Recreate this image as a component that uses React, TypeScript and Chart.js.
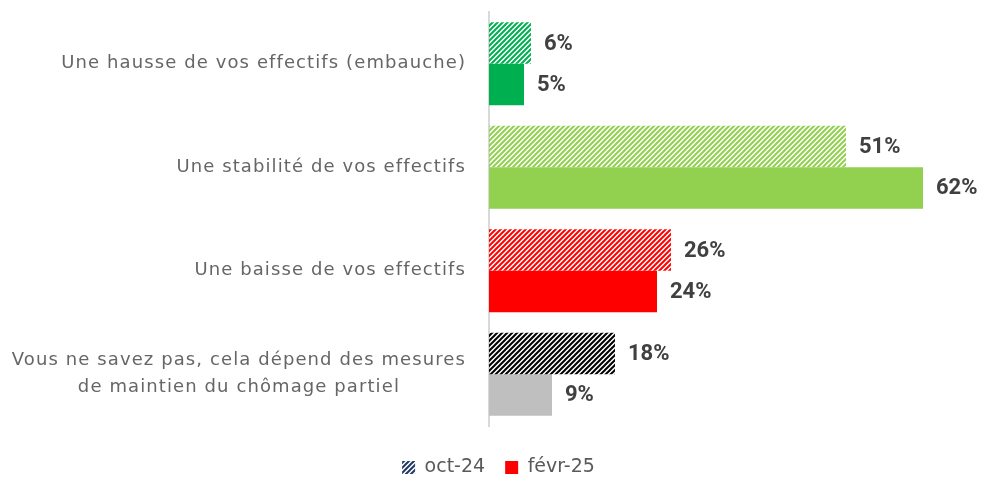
import React, { useEffect, useRef } from "react";
import { Chart, registerables } from "chart.js";

Chart.register(...registerables);

const categories: string[][] = [
  ["Une hausse de vos effectifs (embauche)"],
  ["Une stabilité de vos effectifs"],
  ["Une baisse de vos effectifs"],
  ["Vous ne savez pas, cela dépend des mesures", "de maintien du chômage partiel"],
];
const seriesNames = ["oct-24", "févr-25"];
const oct24 = [6, 51, 26, 18];
const fevr25 = [5, 62, 24, 9];
const hatchColors = ["#00b050", "#92d050", "#ff0000", "#000000"];
const solidColors = ["#00b050", "#92d050", "#ff0000", "#bfbfbf"];
const legendHatchColor = "#1f3864";
const legendSolidColor = "#ff0000";

const LABEL_FONT = "'DejaVu Sans', sans-serif";
const VALUE_FONT = "Roboto, sans-serif";

function hatch(color: string): CanvasPattern | string {
  const s = 5;
  const c = document.createElement("canvas");
  c.width = s;
  c.height = s;
  const x = c.getContext("2d");
  if (!x) return color;
  x.strokeStyle = color;
  x.lineWidth = 2;
  x.beginPath();
  x.moveTo(-1, s + 1);
  x.lineTo(s + 1, -1);
  x.moveTo(-s / 2 - 1, s / 2 + 1);
  x.lineTo(s / 2 + 1, -s / 2 - 1);
  x.moveTo(s / 2 - 1, s * 1.5 + 1);
  x.lineTo(s * 1.5 + 1, s / 2 - 1);
  x.stroke();
  return x.createPattern(c, "repeat") || color;
}

const labelsPlugin = {
  id: "customLabels",
  afterLayout(chart: any) {
    const lg = chart.legend;
    if (lg) {
      lg.top += 9;
      lg.bottom += 9;
    }
  },
  afterDatasetsDraw(chart: any) {
    const ctx = chart.ctx as CanvasRenderingContext2D;
    ctx.save();
    ctx.font = `bold 22px ${VALUE_FONT}`;
    ctx.fillStyle = "#404040";
    ctx.textAlign = "left";
    ctx.textBaseline = "middle";
    chart.data.datasets.forEach((ds: any, di: number) => {
      const meta = chart.getDatasetMeta(di);
      meta.data.forEach((bar: any, i: number) => {
        ctx.fillText(`${ds.data[i]}%`, bar.x + 13, bar.y + 1);
      });
    });
    const yScale = chart.scales.y;
    ctx.font = `18px ${LABEL_FONT}`;
    (ctx as any).letterSpacing = "1.1px";
    ctx.fillStyle = "#666666";
    const right = chart.chartArea.left - 23;
    const lh = 27;
    categories.forEach((lines, i) => {
      const cy = yScale.getPixelForTick(i);
      const widths = lines.map((l) => ctx.measureText(l).width);
      const widest = Math.max(...widths);
      const cx = right - widest / 2;
      ctx.textAlign = "center";
      lines.forEach((l, j) => {
        const y = cy + (j - (lines.length - 1) / 2) * lh;
        ctx.fillText(l, cx, y);
      });
    });
    (ctx as any).letterSpacing = "0px";
    ctx.restore();
  },
};

export default function App() {
  const ref = useRef<HTMLCanvasElement | null>(null);
  useEffect(() => {
    if (!ref.current) return;
    const chart = new Chart(ref.current, {
      type: "bar",
      data: {
        labels: categories.map((c) => c.join(" ")),
        datasets: [
          {
            label: seriesNames[0],
            data: oct24,
            backgroundColor: hatchColors.map((c) => hatch(c)) as any,
            categoryPercentage: 0.8,
            barPercentage: 1,
          },
          {
            label: seriesNames[1],
            data: fevr25,
            backgroundColor: solidColors,
            categoryPercentage: 0.8,
            barPercentage: 1,
          },
        ],
      },
      options: {
        indexAxis: "y",
        animation: false,
        responsive: true,
        maintainAspectRatio: false,
        layout: { padding: { left: 18, right: 12, top: 12, bottom: 0 } },
        scales: {
          x: {
            display: true,
            min: 0,
            max: 70,
            ticks: { display: false },
            grid: { display: false },
            border: { display: false },
            afterFit: (s: any) => {
              s.height = 3;
            },
          },
          y: {
            ticks: { display: false },
            grid: { display: false },
            border: { display: true, color: "#d9d9d9", width: 2 },
            afterFit: (s: any) => {
              s.width = 471;
            },
          },
        },
        plugins: {
          tooltip: { enabled: false },
          legend: {
            position: "bottom",
            labels: {
              font: { family: LABEL_FONT, size: 19 },
              color: "#595959",
              boxWidth: 13,
              boxHeight: 13,
              padding: 20,
              generateLabels: () => [
                {
                  text: seriesNames[0],
                  fillStyle: hatch(legendHatchColor) as any,
                  strokeStyle: "transparent",
                  lineWidth: 0,
                  datasetIndex: 0,
                  fontColor: "#595959",
                },
                {
                  text: seriesNames[1],
                  fillStyle: legendSolidColor,
                  strokeStyle: "transparent",
                  lineWidth: 0,
                  datasetIndex: 1,
                  fontColor: "#595959",
                },
              ],
            },
          },
        },
      },
      plugins: [labelsPlugin],
    });
    return () => chart.destroy();
  }, []);
  return (
    <div style={{ position: "fixed", left: 0, top: 0, width: 991, height: 478, background: "#fff" }}>
      <canvas ref={ref} />
    </div>
  );
}
